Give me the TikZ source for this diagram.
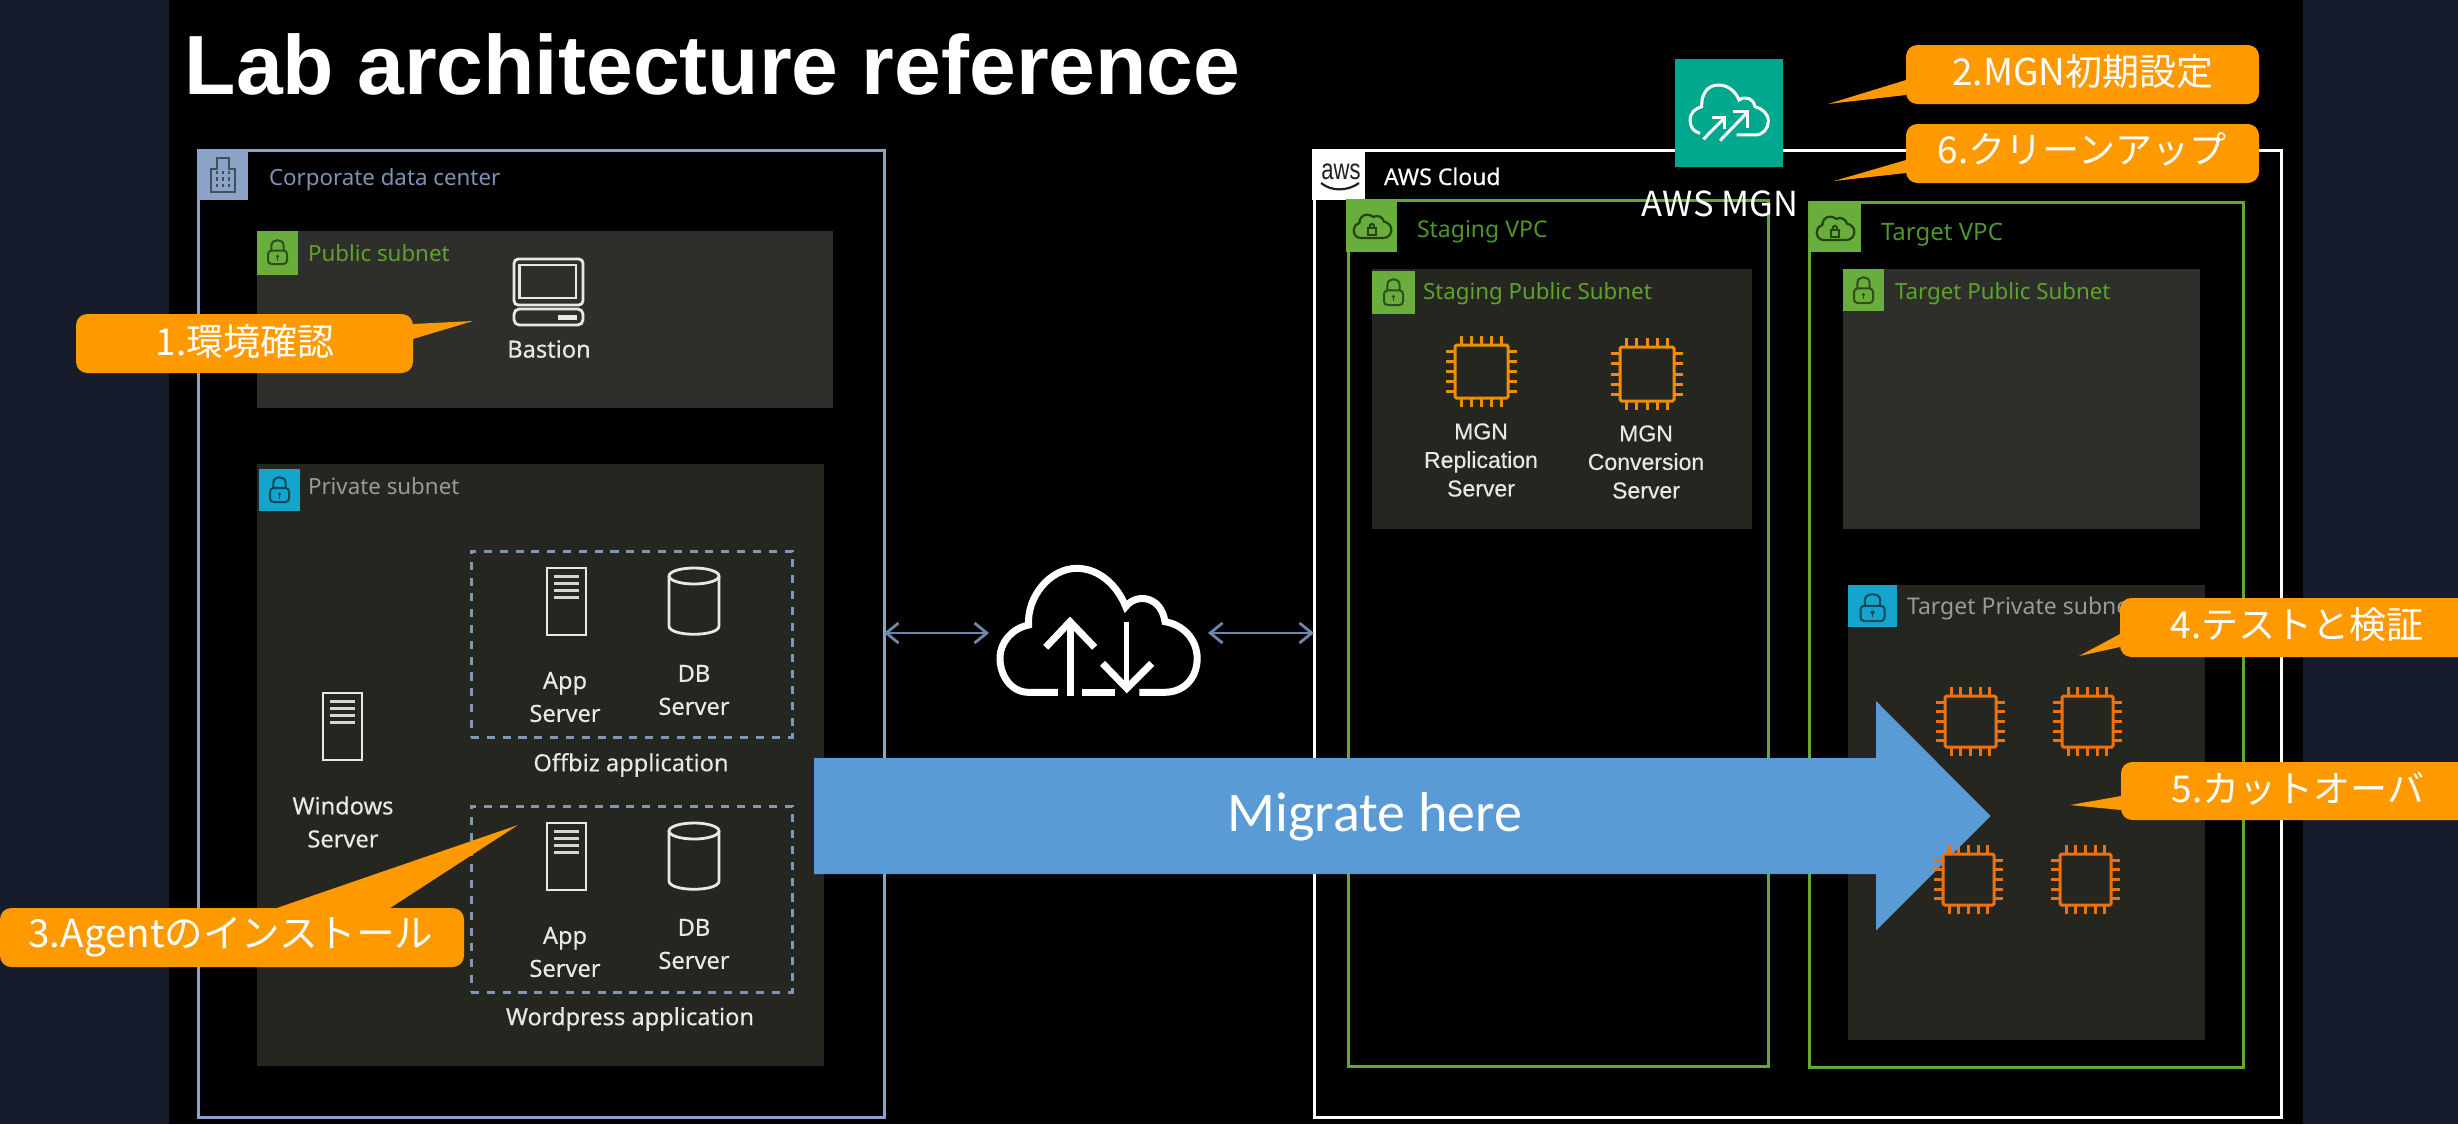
\documentclass[tikz,border=0pt]{standalone}
\usepackage{fontspec}
\usetikzlibrary{arrows.meta}
\setmainfont{Noto Sans}
\newfontfamily\medf[FakeBold=0.35]{Noto Sans}
\newfontfamily\cjkf{Noto Sans CJK JP}
\newfontfamily\arialf{Liberation Sans}
\newfontfamily\armedf[FakeBold=0.35]{Liberation Sans}
\newfontfamily\carf{Carlito}
\newcommand\pxf[2]{\fontsize{\fpeval{#1*0.28453}}{\fpeval{#2*0.28453}}\selectfont}
\definecolor{pagebg}{HTML}{161C2C}
\definecolor{corpc}{HTML}{8AA3C6}
\definecolor{corptxt}{HTML}{7D93B3}
\definecolor{greensq}{HTML}{69AE3C}
\definecolor{greenln}{HTML}{64A832}
\definecolor{greentx}{HTML}{5DA42C}
\definecolor{greendk}{HTML}{4F962A}
\definecolor{bluesq}{HTML}{15A5CC}
\definecolor{pubfill}{HTML}{2E2F2A}
\definecolor{privfill}{HTML}{262620}
\definecolor{graytx}{HTML}{9A9A96}
\definecolor{icn}{HTML}{E8E8E4}
\definecolor{dashc}{HTML}{7F97B4}
\definecolor{linkc}{HTML}{6E87A8}
\definecolor{callc}{HTML}{FF9900}
\definecolor{arrowc}{HTML}{5B9BD5}
\definecolor{mgnc}{HTML}{01A88D}
\definecolor{chipa}{HTML}{EE8F00}
\definecolor{chipb}{HTML}{EC7210}
\tikzset{
  px/.style={line width=#1*0.28453pt},
  boxn/.style={rectangle,inner sep=0pt,outer sep=0pt},
  lbl/.style={inner sep=0pt,outer sep=0pt,anchor=base west,font=\pxf{22.3}{26}},
  clbl/.style={inner sep=0pt,outer sep=0pt,anchor=center,align=center,text=icn,font=\medf\pxf{23.6}{33}},
  calltxt/.style={inner sep=0pt,outer sep=0pt,anchor=center,text=white,font=\cjkf\pxf{37}{44}},
  callbox/.style={boxn,fill=callc,rounded corners=3.2pt},
  dashbox/.style={boxn,draw=dashc,px=3,dash pattern=on 2.3pt off 2.2pt},
  linkarrow/.style={linkc,px=2.8,{Straight Barb[length=3.5pt,width=5.7pt]}-{Straight Barb[length=3.5pt,width=5.7pt]}},
}
% name x1 y1 x2 y2 options
\newcommand\bx[6]{\node[boxn,#6,minimum width={(#4-#2)*0.01cm},minimum height={(#5-#3)*0.01cm}] (#1) at (\fpeval{(#2+#4)/2},\fpeval{(#3+#5)/2}) {};}
% lock: cx top w h color
\newcommand\lockicon[5]{%
  \draw[#5,px=2,rounded corners=1pt] (\fpeval{#1-#3/2},\fpeval{#2+#4*0.44}) rectangle (\fpeval{#1+#3/2},\fpeval{#2+#4});
  \draw[#5,px=2] (\fpeval{#1-#3*0.32},\fpeval{#2+#4*0.44}) -- (\fpeval{#1-#3*0.32},\fpeval{#2+#4*0.22}) .. controls (\fpeval{#1-#3*0.32},\fpeval{#2-#4*0.06}) and (\fpeval{#1+#3*0.32},\fpeval{#2-#4*0.06}) .. (\fpeval{#1+#3*0.32},\fpeval{#2+#4*0.22}) -- (\fpeval{#1+#3*0.32},\fpeval{#2+#4*0.44});
  \fill[#5] (#1,\fpeval{#2+#4*0.68}) ellipse (\fpeval{#3*0.09} and \fpeval{#4*0.07});
  \draw[#5,px=1.5] (#1,\fpeval{#2+#4*0.68}) -- (#1,\fpeval{#2+#4*0.86});
}
% server: x1 y1
\newcommand\servericon[2]{\begin{scope}[shift={(#1,#2)}]
  \draw[icn,px=2.8] (0,0) rectangle (39,67);
  \foreach \yy in {8,15,22,29} {\draw[icn!92!black,px=3] (7,\yy) -- (32,\yy);}
\end{scope}}
% db: x1 y1
\newcommand\dbicon[2]{\begin{scope}[shift={(#1,#2)}]
  \draw[icn,px=2.8] (0,8) -- (0,58) .. controls (0,69) and (50,69) .. (50,58) -- (50,8);
  \draw[icn,px=2.8] (25,8) ellipse (25 and 8);
\end{scope}}
% chip: x1 y1 x2 y2 color
\newcommand\chipicon[5]{%
  \foreach \ff in {0.12,0.31,0.5,0.69,0.88} {
    \draw[#5,px=3] (\fpeval{#1+(#3-#1)*\ff},\fpeval{#2-9}) -- (\fpeval{#1+(#3-#1)*\ff},\fpeval{#4+9});
    \draw[#5,px=3] (\fpeval{#1-9},\fpeval{#2+(#4-#2)*\ff}) -- (\fpeval{#3+9},\fpeval{#2+(#4-#2)*\ff});
  }
  \draw[#5,fill=privfill,px=3,rounded corners=0.4pt] (#1,#2) rectangle (#3,#4);
}
% vpc cloud icon: square top-left
\newcommand\vpccloud[2]{\begin{scope}[shift={(#1,#2)},scale=0.3333]
  \draw[black!55!greendk,px=2.2] (45,117) -- (112,117) .. controls (130,117) and (136,102) .. (136,92) .. controls (136,80) and (126,70) .. (114,68) .. controls (110,52) and (92,47) .. (82,54) .. controls (76,48) and (68,47) .. (62,47) .. controls (48,47) and (40,60) .. (40,72) .. controls (28,76) and (23,84) .. (23,94) .. controls (23,108) and (32,117) .. (45,117) -- cycle;
  \draw[black!55!greendk,px=2] (65,87) rectangle (90,107);
  \draw[black!55!greendk,px=2] (70,87) .. controls (70,70) and (85,70) .. (85,87);
\end{scope}}
\begin{document}
\begin{tikzpicture}[x=0.01cm,y=-0.01cm]
\useasboundingbox (0,0) rectangle (2458,1124);
\fill[pagebg] (0,0) rectangle (2458,1124);
\fill[black] (169,0) rectangle (2303,1124);
% title
\node[inner sep=0pt,anchor=base west,text=white,font=\arialf\bfseries\pxf{84}{90}] (title) at (184,94) {Lab architecture reference};

% corporate data center
\bx{corp}{198}{150}{884}{1117}{draw=corpc,px=3}
\bx{corpsq}{197}{149}{248}{200}{fill=corpc}
\begin{scope}[shift={(190,145)},scale=0.3333]
  \draw[black!30!corptxt!75!black,px=2.2] (62,72) -- (80,72) -- (80,38) -- (117,38) -- (117,72) -- (135,72) -- (135,140) -- (62,140) -- cycle;
  \foreach \xx in {80,98,117} \foreach \yy in {82,102,122} {\fill[black!30!corptxt!75!black] (\xx-3,\yy-5) rectangle (\xx+3,\yy+5);}
\end{scope}
\node[lbl,text=corptxt] (corplbl) at (269,185) {Corporate data center};

% public subnet
\bx{pub}{257}{231}{833}{408}{fill=pubfill}
\bx{pubsq}{257}{231}{298}{275}{fill=greensq}
\lockicon{277.5}{240}{19}{24}{black!55!greensq}
\node[lbl,text=greentx] (publbl) at (308,261) {Public subnet};
% bastion
\draw[icn,px=2.8,rounded corners=1.2pt] (514,259) rectangle (583,305);
\draw[icn,px=2.8] (519.5,265) rectangle (576,298);
\draw[icn,px=2.8,rounded corners=1.5pt] (514,309) rectangle (583,325);
\fill[icn] (558,315) rectangle (577,319.5);
\node[clbl] (bastion) at (549,349) {Bastion};

% private subnet
\bx{priv}{257}{464}{824}{1066}{fill=privfill}
\bx{privsq}{259}{469}{300}{511}{fill=bluesq}
\lockicon{279.5}{477}{19}{25}{black!55!bluesq}
\node[lbl,text=graytx] (privlbl) at (308,494) {Private subnet};
\bx{offbiz}{471}{551}{792}{737}{dashbox}
\bx{wp}{471}{806}{792}{992}{dashbox}
\servericon{547}{568}
\dbicon{669}{568}
\node[clbl] (app1) at (565,697) {App\\Server};
\node[clbl] (db1) at (694,690) {DB\\Server};
\node[clbl] (offlbl) at (631,765) {Offbiz application};
\servericon{323}{693}
\node[clbl] (win) at (343,822) {Windows\\Server};
\servericon{547}{823}
\dbicon{669}{823}
\node[clbl] (app2) at (565,952) {App\\Server};
\node[clbl] (db2) at (694,944) {DB\\Server};
\node[clbl] (wplbl) at (630,1019) {Wordpress application};

% AWS cloud
\bx{aws}{1314}{150}{2281}{1117}{draw=white,px=3}
\bx{awssq}{1312}{149}{1365}{200}{fill=white}
\node[inner sep=0pt,anchor=base,text=black!75!gray,font=\arialf\pxf{29}{30}] (awslogo) at (1341,179) {\scalebox{0.76}[1]{aws}};
\draw[black!75!gray,px=2.2] (1321,183) .. controls (1332,192) and (1348,191) .. (1359,183);
\node[lbl,text=white,font=\medf\pxf{23}{26}] (awslbl) at (1384,185) {AWS Cloud};

% staging VPC
\bx{svpc}{1348}{200}{1768}{1066}{draw=greenln,px=3}
\bx{svpcsq}{1346}{199}{1397}{252}{fill=greensq}
\vpccloud{1346}{199}
\node[lbl,text=greendk,font=\pxf{23}{26}] (svpcl) at (1417,237) {Staging VPC};
\bx{spub}{1372}{269}{1752}{529}{fill=privfill}
\bx{spubsq}{1372}{271}{1415}{314}{fill=greensq}
\lockicon{1393.5}{279}{19}{26}{black!55!greensq}
\node[lbl,text=greentx] (spubl) at (1423,299) {Staging Public Subnet};
\chipicon{1455}{345}{1508}{398}{chipa}
\chipicon{1620}{347}{1674}{401}{chipa}
\node[clbl,font=\armedf\pxf{23}{28.5}] (mgnr) at (1481,460) {MGN\\Replication\\Server};
\node[clbl,font=\armedf\pxf{23}{28.5}] (mgnc) at (1646,462) {MGN\\Conversion\\Server};

% target VPC
\bx{tvpc}{1809}{202}{2243}{1067}{draw=greenln,px=3}
\bx{tvpcsq}{1809}{201}{1861}{252}{fill=greensq}
\vpccloud{1809}{201}
\node[lbl,text=greendk,font=\pxf{24}{26}] (tvpcl) at (1881,240) {Target VPC};
\bx{tpub}{1843}{269}{2200}{529}{fill=pubfill}
\bx{tpubsq}{1843}{269}{1884}{311}{fill=greensq}
\lockicon{1863.5}{277}{19}{26}{black!55!greensq}
\node[lbl,text=greentx] (tpubl) at (1895,299) {Target Public Subnet};
\bx{tpriv}{1848}{585}{2205}{1040}{fill=privfill}
\bx{tprivsq}{1848}{585}{1897}{627}{fill=bluesq}
\lockicon{1872.5}{594}{24}{27}{black!55!bluesq}
\node[lbl,text=graytx,font=\pxf{23}{26}] (tprivl) at (1907,614) {Target Private subnet};

% link cloud
\node[boxn,minimum width=205*0.01cm,minimum height=130*0.01cm] (linkcloud) at (1098.5,633) {};
\begin{scope}[shift={(800,540)},xscale=0.35714,yscale=0.3333]
  \draw[white,px=7] (722,457) -- (640,457) .. controls (590,457) and (560,405) .. (560,355) .. controls (560,305) and (595,265) .. (640,255) .. controls (635,170) and (700,85) .. (775,85) .. controls (840,85) and (890,140) .. (912,200) .. controls (940,160) and (1010,165) .. (1022,245) .. controls (1075,255) and (1112,300) .. (1112,355) .. controls (1112,415) and (1075,457) .. (1020,457) -- (950,457);
  \draw[white,px=7] (790,457) -- (882,457);
  \draw[white,px=7] (756,467) -- (756,245);
  \draw[white,px=7] (688,322) -- (756,245) -- (825,322);
  \draw[white,px=5] (915,245) -- (915,445);
  \draw[white,px=7] (847,370) -- (915,445) -- (985,370);
\end{scope}
\coordinate (lkA) at (corp.east |- linkcloud);
\coordinate (lkB) at (aws.west |- linkcloud);
\coordinate (lkC) at ([xshift=-7*0.01cm]linkcloud.west);
\coordinate (lkD) at ([xshift=7*0.01cm]linkcloud.east);
\draw[linkarrow] (lkA) -- (lkC);
\draw[linkarrow] (lkD) -- (lkB);

% big arrow
\fill[arrowc] (814,758) -- (1876,758) -- (1876,701) -- (1990.5,816) -- (1876,930.5) -- (1876,874) -- (814,874) -- cycle;
\node[inner sep=0pt,text=white,font=\carf\pxf{56}{60}] (migrate) at (1375,817) {Migrate here};
% chips over arrow
\chipicon{1945}{696}{1996}{747}{chipb}
\chipicon{2062}{696}{2113}{747}{chipb}
\chipicon{1943}{854}{1994}{905}{chipb}
\chipicon{2060}{854}{2111}{905}{chipb}

% MGN
\bx{mgn}{1675}{59}{1783}{167}{fill=mgnc}
\begin{scope}[shift={(1670,55)},scale=0.3333]
  \draw[white,px=3] (200,240) -- (255,240) .. controls (280,240) and (295,220) .. (295,198) .. controls (295,175) and (275,160) .. (255,155) .. controls (250,130) and (225,122) .. (207,135) .. controls (195,105) and (170,90) .. (145,90) .. controls (115,90) and (93,115) .. (95,155) .. controls (75,160) and (60,175) .. (60,195) .. controls (60,215) and (70,230) .. (90,235);
  \draw[white,px=3] (100,253) -- (162,190);
  \draw[white,px=3] (127,188) -- (162,188) -- (162,222);
  \draw[white,px=3] (150,257) -- (232,172);
  \draw[white,px=3] (190,170) -- (232,170) -- (232,218);
\end{scope}
\node[inner sep=0pt,text=white,font=\cjkf\pxf{34.5}{40}] (mgnlbl) at (1720,204) {AWS MGN};

% callouts
\bx{c1}{76}{314}{413}{373}{callbox}
\coordinate (t1) at (473,321);
\fill[callc] (c1.east |- 0,324) -- (t1) -- (c1.east |- 0,339) -- cycle;
\node[calltxt] (c1t) at (245,341) {1.環境確認};
\bx{c2}{1906}{45}{2259}{104}{callbox}
\coordinate (t2) at (1828,104);
\fill[callc] (c2.west |- 0,80) -- (t2) -- (c2.west |- 0,95) -- cycle;
\node[calltxt] (c2t) at (2083,72) {2.MGN初期設定};
\bx{c6}{1906}{124}{2259}{183}{callbox}
\coordinate (t6) at (1834,181);
\fill[callc] (c6.west |- 0,160) -- (t6) -- (c6.west |- 0,173) -- cycle;
\node[calltxt] (c6t) at (2082,150) {6.クリーンアップ};
\bx{c3}{0}{908}{464}{967}{callbox}
\coordinate (t3) at (518,825);
\fill[callc] (271,910) -- (t3) -- (387,910) -- cycle;
\node[calltxt,font=\cjkf\pxf{38.5}{44}] (c3t) at (231,937) {3.Agentのインストール};
\bx{c4}{2120}{598}{2480}{657}{callbox}
\coordinate (t4) at (2079,656);
\fill[callc] (c4.west |- 0,634) -- (t4) -- (c4.west |- 0,647) -- cycle;
\node[calltxt] (c4t) at (2297,625) {4.テストと検証};
\bx{c5}{2121}{762}{2480}{820}{callbox}
\coordinate (t5) at (2070,805);
\fill[callc] (c5.west |- 0,796) -- (t5) -- (c5.west |- 0,810) -- cycle;
\node[calltxt] (c5t) at (2298,789) {5.カットオーバ};
\end{tikzpicture}
\end{document}
